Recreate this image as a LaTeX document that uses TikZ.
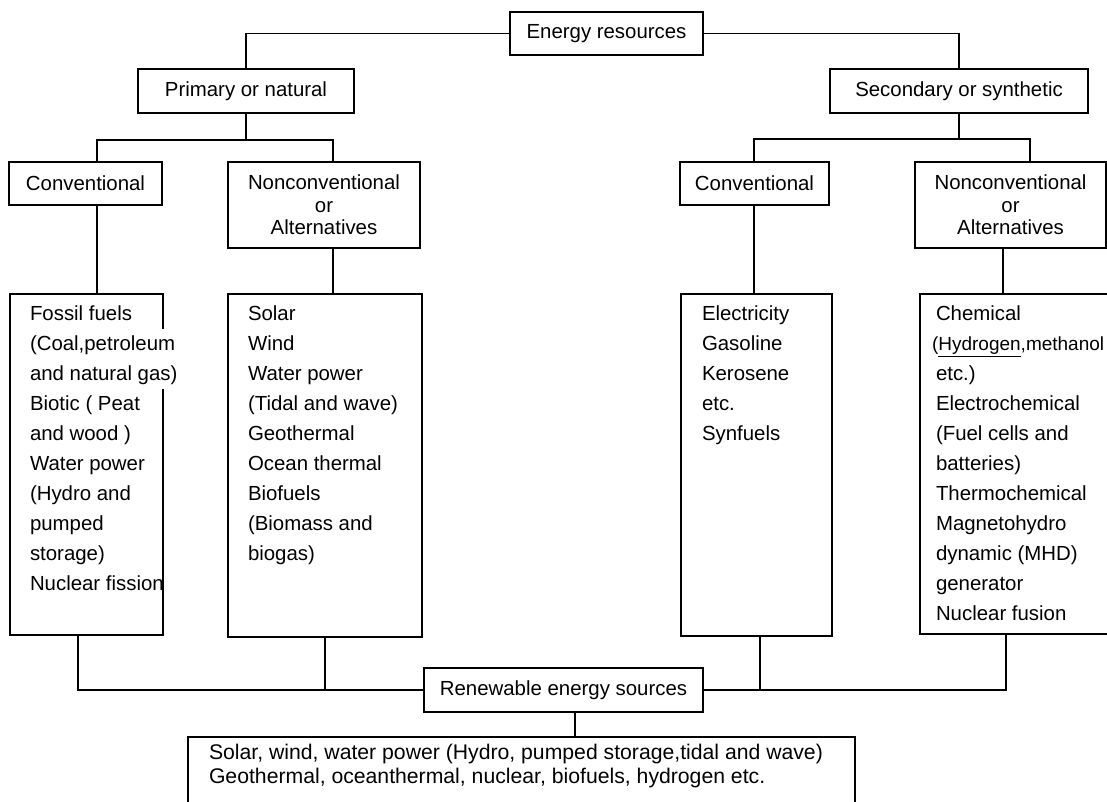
\documentclass[tikz,border=0pt]{standalone}
\usepackage{fontspec}
\setmainfont{Liberation Sans}
\usetikzlibrary{positioning}

\tikzset{
  head/.style={draw,line width=0.9pt,inner sep=0pt,align=center,
    font=\fontsize{10.2}{11.25}\selectfont},
  listbox/.style={draw,line width=0.9pt,inner sep=0pt},
  listtext/.style={inner sep=0pt,align=left,font=\fontsize{10.2}{15}\selectfont},
}
\newcommand{\gapline}[1]{{\fboxsep=0pt\colorbox{white}{\strut #1}}}

\begin{document}
\begin{tikzpicture}[x=0.5pt,y=-0.5pt,line width=0.9pt]
\useasboundingbox (0,0) rectangle (1107,802);

\node[head,minimum width=96.5pt,minimum height=21.5pt] (er) at (606.5,33.5) {Energy resources};
\node[head,minimum width=108pt,minimum height=22pt] (prim) at (246,91) {Primary or natural};
\node[head,minimum width=129pt,minimum height=22pt] (sec) at (959,91) {Secondary or synthetic};

\node[head,minimum width=76.5pt,minimum height=21.5pt] (convl) at (85.5,183.5) {Conventional};
\node[head,minimum width=96pt,minimum height=43pt] (ncl) at (324,205) {Nonconventional\\or\\Alternatives};
\node[head,minimum width=74.5pt,minimum height=21.5pt] (convr) at (754.5,183.5) {Conventional};
\node[head,minimum width=95.5pt,minimum height=43pt] (ncr) at (1010.5,205) {Nonconventional\\or\\Alternatives};

% lists
\node[listbox,minimum width=76.5pt,minimum height=170.5pt] (foss) at (86.5,464.5) {};
\node[listbox,minimum width=97pt,minimum height=171.5pt] (bio) at (325,465.5) {};
\node[listbox,minimum width=75.5pt,minimum height=171pt] (elec) at (756.5,465) {};
\node[listbox,minimum width=96pt,minimum height=170pt] (chem) at (1016,464) {};

\node[listtext,below right=2.5pt and 10pt of foss.north west] (fosst) {\strut Fossil fuels\\
  \gapline{(Coal,petroleum}\\\gapline{and natural gas)}\\Biotic ( Peat\\and wood )\\
  Water power\\(Hydro and\\pumped\\storage)\\Nuclear fission};
\node[listtext,below right=2.5pt and 10pt of bio.north west] (biot) {\strut Solar\\Wind\\
  Water power\\(Tidal and wave)\\Geothermal\\Ocean thermal\\Biofuels\\(Biomass and\\biogas)};
\node[listtext,below right=2.5pt and 10.5pt of elec.north west] (elect) {\strut Electricity\\
  Gasoline\\Kerosene\\etc.\\Synfuels};
\node[listtext,below right=2.5pt and 8pt of chem.north west] (chemt) {\strut Chemical\\
  \hspace*{-2pt}{\fontsize{9.5}{15}\selectfont(\underline{Hydrogen},methanol}\\etc.)\\Electrochemical\\
  (Fuel cells and\\batteries)\\Thermochemical\\Magnetohydro\\dynamic (MHD)\\generator\\Nuclear fusion};

% renewable
\node[head,minimum width=139.5pt,minimum height=22pt] (ren) at (563.5,690) {Renewable energy sources};
\node[listbox,minimum width=333.5pt,minimum height=37.5pt] (all) at (521.5,774.5) {};
\node[listtext,font=\fontsize{10.6}{12}\selectfont,below right=3pt and 10.5pt of all.north west] (allt)
  {\strut Solar, wind, water power (Hydro, pumped storage,tidal and wave)\\
   Geothermal, oceanthermal, nuclear, biofuels, hydrogen etc.};

\coordinate (pl) at (97,140);
\coordinate (pr) at (333,140);
\coordinate (sl) at (754,139);
\coordinate (sr) at (1030,139);
\coordinate (sd) at (1003,0);
\coordinate (bl) at (78,690);
\coordinate (be) at (760,690);
\coordinate (br) at (1006,690);
\coordinate (rd) at (575,0);

\draw (er.west) -| (prim.north);
\draw (er.east) -| (sec.north);

\draw (prim.south) -- (prim.south |- pl);
\draw (convl.north -| pl) -- (pl) -- (pr) -- (ncl.north -| pr);
\draw (convl.south -| pl) -- (foss.north -| pl);
\draw (ncl.south -| pr) -- (bio.north -| pr);

\draw (sec.south) -- (sec.south |- sl);
\draw (convr.north -| sl) -- (sl) -- (sr) -- (ncr.north -| sr);
\draw (convr.south -| sl) -- (elec.north -| sl);
\draw (ncr.south -| sd) -- (chem.north -| sd);

\draw (foss.south -| bl) -- (bl) -- (ren.west);
\draw (bio.south) -- (bio.south |- bl);
\draw (ren.east) -- (br) -- (chem.south -| br);
\draw (elec.south -| be) -- (be);
\draw (ren.south -| rd) -- (all.north -| rd);

\end{tikzpicture}
\end{document}
